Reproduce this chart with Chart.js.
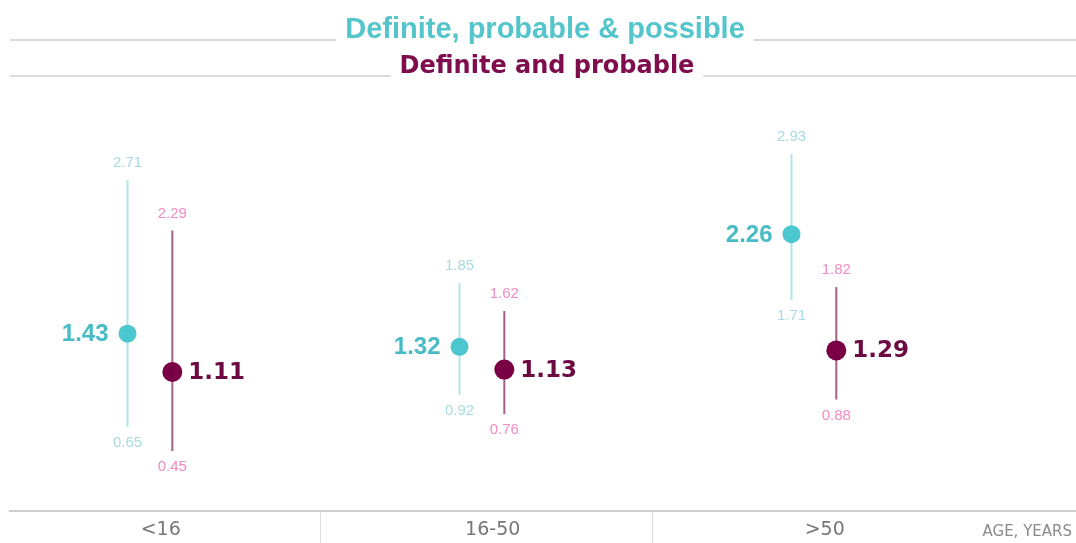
<!DOCTYPE html>
<html>
<head>
<meta charset="utf-8">
<script src="https://cdn.jsdelivr.net/npm/chart.js@4/dist/chart.umd.min.js"></script>
<style>
  html, body { margin: 0; padding: 0; background: #ffffff; }
  #wrap { position: relative; width: 1076px; height: 543px; }
</style>
</head>
<body>
<div id="wrap"><canvas id="chart" width="1076" height="543"></canvas></div>
<script>
// Age groups on the x axis
const categories = ['<16', '16-50', '>50'];
const axisTitle = 'AGE, YEARS';

// Definite, probable & possible cases: estimate with lower / upper limits
const broadName = 'Definite, probable & possible';
const broadEstimate = [1.43, 1.32, 2.26];
const broadLower = [0.65, 0.92, 1.71];
const broadUpper = [2.71, 1.85, 2.93];

// Definite and probable cases: estimate with lower / upper limits
const strictName = 'Definite and probable';
const strictEstimate = [1.11, 1.13, 1.29];
const strictLower = [0.45, 0.76, 0.88];
const strictUpper = [2.29, 1.62, 1.82];

// Drawing styles for each series
const series = [
  {
    name: broadName, est: broadEstimate, lo: broadLower, hi: broadUpper,
    dodge: -0.10, radius: 9,
    pointColor: '#4AC7CF', lineColor: '#B3E4E8', smallColor: '#A6DBE1',
    bigColor: '#48BCC4', bigFont: 'bold 24px "Liberation Sans", Arial, sans-serif', bigSide: -1,
    titleFont: 'bold 29px "Liberation Sans", Arial, sans-serif', titleColor: '#55C5CC'
  },
  {
    name: strictName, est: strictEstimate, lo: strictLower, hi: strictUpper,
    dodge: 0.035, radius: 10,
    pointColor: '#7A0046', lineColor: '#A06282', smallColor: '#F08CC3',
    bigColor: '#6C0A41', bigFont: 'bold 23px "DejaVu Sans", Verdana, sans-serif', bigSide: 1,
    titleFont: 'bold 24px "DejaVu Sans", Verdana, sans-serif', titleColor: '#7F0C4C'
  }
];

const TICK_SHIFT = 0.52; // where each age group sits inside its column
const xOf = (s, i) => i + TICK_SHIFT + s.dodge;

// Range lines (one line dataset per series, broken between groups) and estimate points
const datasets = [];
series.forEach((s) => {
  const segs = [];
  categories.forEach((_, i) => {
    segs.push({ x: xOf(s, i), y: s.lo[i] });
    segs.push({ x: xOf(s, i), y: s.hi[i] });
    segs.push({ x: xOf(s, i), y: null });
  });
  datasets.push({
    type: 'line', label: s.name + ' range', data: segs,
    borderColor: s.lineColor, borderWidth: 2, pointRadius: 0,
    spanGaps: false, order: 2
  });
});
series.forEach((s) => {
  datasets.push({
    type: 'line', label: s.name, showLine: false,
    data: categories.map((_, i) => ({ x: xOf(s, i), y: s.est[i] })),
    pointRadius: s.radius, pointHoverRadius: s.radius,
    pointBackgroundColor: s.pointColor, pointBorderWidth: 0, order: 0
  });
});

// Titles with grey rules on either side
const titlePlugin = {
  id: 'titles',
  beforeDraw(chart) {
    const ctx = chart.ctx;
    const W = chart.width;
    const rows = [
      { s: series[0], cx: 545, base: 38, rule: 40 },
      { s: series[1], cx: 547, base: 73, rule: 76 }
    ];
    ctx.save();
    rows.forEach(r => {
      ctx.font = r.s.titleFont;
      const w = ctx.measureText(r.s.name).width;
      ctx.fillStyle = r.s.titleColor;
      ctx.textAlign = 'center';
      ctx.textBaseline = 'alphabetic';
      ctx.fillText(r.s.name, r.cx, r.base);
      ctx.strokeStyle = '#DADADA';
      ctx.lineWidth = 2;
      ctx.beginPath();
      ctx.moveTo(10, r.rule); ctx.lineTo(r.cx - w / 2 - 9, r.rule);
      ctx.moveTo(r.cx + w / 2 + 9, r.rule); ctx.lineTo(W, r.rule);
      ctx.stroke();
    });
    ctx.restore();
  }
};

// Column separators below the axis and the axis caption
const axisPlugin = {
  id: 'axisExtras',
  afterDraw(chart) {
    const ctx = chart.ctx;
    const xs = chart.scales.x;
    const bottom = chart.chartArea.bottom;
    ctx.save();
    ctx.strokeStyle = '#DDDDDD';
    ctx.lineWidth = 1;
    for (let b = 1; b < categories.length; b++) {
      const px = Math.round(xs.getPixelForValue(b)) + 0.5;
      ctx.beginPath();
      ctx.moveTo(px, bottom + 1);
      ctx.lineTo(px, chart.height);
      ctx.stroke();
    }
    ctx.font = '15px "DejaVu Sans", Verdana, sans-serif';
    ctx.fillStyle = '#8A8A8A';
    ctx.textAlign = 'right';
    ctx.textBaseline = 'middle';
    ctx.fillText(axisTitle, chart.width - 4, bottom + 21);
    ctx.restore();
  }
};

// Value labels: estimate beside the dot, limits at the ends of each line
const labelPlugin = {
  id: 'valueLabels',
  afterDatasetsDraw(chart) {
    const ctx = chart.ctx;
    const xs = chart.scales.x, ys = chart.scales.y;
    ctx.save();
    series.forEach(s => {
      categories.forEach((_, i) => {
        const px = xs.getPixelForValue(xOf(s, i));
        // limits
        ctx.font = '15px "Liberation Sans", Arial, sans-serif';
        ctx.fillStyle = s.smallColor;
        ctx.textAlign = 'center';
        ctx.textBaseline = 'middle';
        ctx.fillText(s.hi[i].toFixed(2), px, ys.getPixelForValue(s.hi[i]) - 17);
        ctx.fillText(s.lo[i].toFixed(2), px, ys.getPixelForValue(s.lo[i]) + 16);
        // estimate
        ctx.font = s.bigFont;
        ctx.fillStyle = s.bigColor;
        ctx.textAlign = s.bigSide < 0 ? 'right' : 'left';
        const gap = s.bigSide < 0 ? 19 : 16;
        ctx.fillText(s.est[i].toFixed(2), px + s.bigSide * gap, ys.getPixelForValue(s.est[i]) + 1);
      });
    });
    ctx.restore();
  }
};

new Chart(document.getElementById('chart'), {
  type: 'line',
  data: { datasets },
  options: {
    responsive: false,
    animation: false,
    devicePixelRatio: 1,
    layout: { autoPadding: false, padding: { top: 100, left: 10, right: 0, bottom: 0 } },
    plugins: { legend: { display: false }, tooltip: { enabled: false }, title: { display: false } },
    scales: {
      x: {
        type: 'linear',
        min: 0.066, max: 3.277,
        grid: { display: false, drawTicks: false },
        border: { display: true, color: '#CFCFCF', width: 2 },
        afterBuildTicks: (scale) => { scale.ticks = categories.map((_, i) => ({ value: i + TICK_SHIFT })); },
        afterFit: (scale) => { scale.height = 32; },
        ticks: {
          autoSkip: false, maxRotation: 0, padding: 8,
          color: '#777777',
          font: { family: '"DejaVu Sans", Verdana, sans-serif', size: 19 },
          callback: (v) => {
            const i = Math.round(v - TICK_SHIFT);
            return categories[i] !== undefined ? categories[i] : '';
          }
        }
      },
      y: {
        type: 'linear',
        display: false,
        min: -0.05, max: 3.38
      }
    }
  },
  plugins: [titlePlugin, axisPlugin, labelPlugin]
});
</script>
</body>
</html>
